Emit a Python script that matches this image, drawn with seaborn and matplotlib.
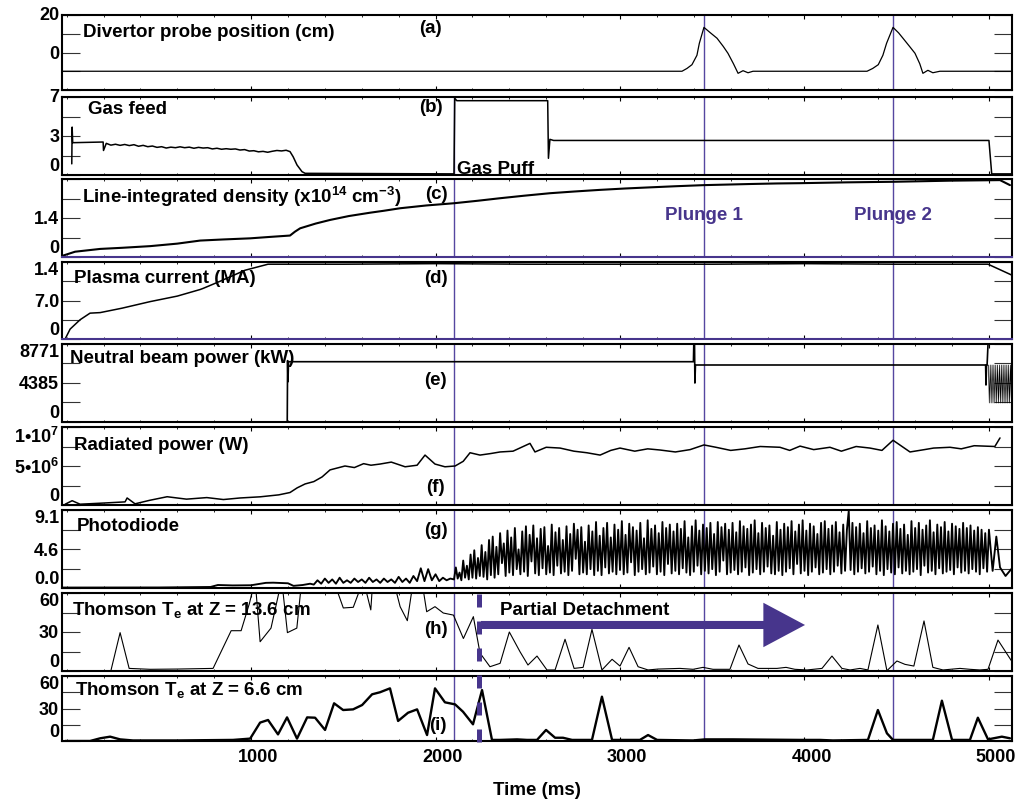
import matplotlib
matplotlib.use('Agg')
import matplotlib.pyplot as plt
import matplotlib.transforms as mtransforms
from matplotlib.lines import Line2D
import numpy as np
import seaborn as sns

# all times in ms
gas_puff_t = 2100
plunge_t = [3455, 4480]
plunge_names = ['Plunge 1', 'Plunge 2']
detach_t = 2236
detach_end_t = 4003
x_ticks = [1000, 2000, 3000, 4000, 5000]

# (a) divertor probe position (cm)
probe_t = [-25, 3336, 3363, 3390, 3417, 3430, 3455, 3490, 3526, 3560, 3585, 3615, 3640, 3667, 3694, 3721,
           4339, 4370, 4400, 4425, 4445, 4480, 4510, 4534, 4570, 4599, 4625, 4642, 4669, 4696, 4734, 5125]
probe_cm = [-10, -10, -8.5, -6.5, -1.5, 4.9, 13.4, 10.5, 7.6, 3.2, -0.4, -6, -11.1, -9.7, -10.8, -10,
            -10, -8.5, -6.5, -1.5, 4.9, 13.4, 10.5, 7.6, 3.2, -0.4, -6, -11.1, -9.5, -10.8, -10, -10]

# (b) gas feed
gas_t = [28, 30, 33, 198, 200, 215, 240, 265, 290, 315,
         340, 365, 390, 415, 440, 465, 490, 515, 540, 565,
         590, 615, 640, 665, 690, 715, 740, 765, 790, 815,
         840, 865, 890, 915, 940, 965, 990, 1015, 1040, 1065,
         1090, 1115, 1140, 1165, 1190, 1211, 1228, 1249, 1276, 1293,
         2100, 2104, 2115, 2608, 2612, 2620, 2640, 5000, 5015, 5125]
gas_v = [1.0, 4.3, 2.9, 2.96, 2.2, 2.84, 2.68, 2.76, 2.66, 2.74,
         2.64, 2.72, 2.58, 2.66, 2.54, 2.6, 2.48, 2.54, 2.42, 2.5,
         2.45, 2.53, 2.45, 2.5, 2.4, 2.48, 2.42, 2.45, 2.34, 2.4,
         2.31, 2.36, 2.31, 2.34, 2.24, 2.28, 2.15, 2.18, 2.08, 2.12,
         2.04, 2.13, 2.2, 2.16, 2.22, 2.1, 1.64, 0.9, 0.3, 0.15,
         0.1, 6.9, 6.67, 6.67, 1.5, 3.2, 3.1, 3.1, 0.1, 0.1]

# (c) line-integrated density (x10^14 cm^-3)
ne_t = [-24, 46, 182, 300, 453, 600, 724, 850, 995, 1100,
        1211, 1238, 1266, 1350, 1428, 1530, 1645, 1720, 1808, 1950,
        2100, 2230, 2350, 2480, 2621, 2750, 2892, 3030, 3163, 3300,
        3455, 3580, 3705, 3850, 3976, 4230, 4480, 4789, 5060, 5114]
ne_v = [0.04, 0.19, 0.29, 0.33, 0.39, 0.48, 0.59, 0.63, 0.67, 0.72,
        0.77, 0.91, 1.03, 1.2, 1.33, 1.47, 1.59, 1.66, 1.75, 1.85,
        1.93, 2.02, 2.11, 2.2, 2.29, 2.35, 2.41, 2.46, 2.50, 2.54,
        2.58, 2.6, 2.62, 2.64, 2.65, 2.68, 2.70, 2.74, 2.76, 2.58]

# (d) plasma current (MA)
ip_t = [-8, 19, 73, 127, 182, 300, 453, 600, 724, 740,
        832, 967, 1092, 1500, 2000, 2500, 3000, 3500, 4000, 4500, 4995, 5125]
ip_v = [0, 0.18, 0.35, 0.47, 0.48, 0.56, 0.68, 0.78, 0.90, 0.92,
        1.05, 1.25, 1.36, 1.36, 1.37, 1.36, 1.36, 1.36, 1.37, 1.36, 1.36, 1.16]

# (e) neutral beam power (kW)
nb_t = [-25, 1196, 1198, 1200, 1203, 3398, 3400, 3404, 3406, 3409, 4982, 4984, 4987, 4990, 4995]
nb_kw = [0, 0, 6900, 4530, 6780, 6780, 8771, 8771, 4385, 6410, 6410, 4160, 6410, 6410, 8771]
nb_tail_t = [4997, 5002, 5007, 5012, 5017, 5022, 5027, 5032, 5037, 5042, 5047, 5052, 5057,
             5062, 5067, 5072, 5077, 5082, 5087, 5092, 5097, 5102, 5107, 5112, 5117, 5122]
nb_tail_kw = [6410, 2140, 6410, 2140, 6410, 2140, 6410, 2140, 6410, 2140, 6410, 2140, 6410,
              2140, 6410, 2140, 6410, 2140, 6410, 2140, 6410, 2140, 6410, 2140, 6410, 2140]

# (f) radiated power (MW, plotted in W)
rad_t = [-8, 30, 73, 200, 317, 328, 371, 450, 545, 650,
         760, 850, 940, 1050, 1150, 1211, 1250, 1293, 1340, 1385,
         1428, 1509, 1560, 1610, 1650, 1699, 1760, 1835, 1900, 1943,
         1997, 2051, 2106, 2150, 2187, 2241, 2300, 2350, 2420, 2512,
         2539, 2600, 2675, 2750, 2820, 2892, 2950, 3000, 3080, 3150,
         3217, 3300, 3380, 3455, 3520, 3600, 3677, 3760, 3867, 3920,
         3976, 4050, 4138, 4200, 4280, 4355, 4420, 4480, 4572, 4650,
         4700, 4789, 4850, 4920, 5032, 5060]
rad_mw = [0.1, 0.55, 0.1, 0.25, 0.4, 0.9, 0.15, 0.6, 1.06, 0.75,
          0.95, 0.7, 0.9, 1.05, 1.3, 1.6, 2.2, 2.7, 3.0, 3.6,
          4.5, 5.0, 4.8, 5.3, 5.1, 5.25, 5.5, 4.9, 5.1, 6.4,
          5.25, 4.9, 5.0, 5.6, 6.7, 6.4, 6.6, 6.8, 6.9, 7.9,
          6.8, 7.4, 7.3, 6.9, 6.7, 6.4, 7.0, 7.3, 6.9, 7.2,
          7.05, 6.8, 7.1, 7.7, 7.4, 7.0, 7.2, 7.5, 7.4, 7.0,
          7.55, 7.1, 7.4, 6.9, 7.5, 7.3, 7.0, 8.3, 6.8, 7.1,
          7.3, 7.4, 7.2, 7.6, 7.5, 8.6]

# (g) photodiode: quiet start, 20 ms samples from 1340 ms, 10 ms samples after the puff
pd_early_t = [-24, 500, 780, 820, 900, 1000, 1080, 1120, 1200, 1230, 1280, 1320]
pd_early_v = [0.05, 0.06, 0.12, 0.35, 0.3, 0.32, 0.6, 0.62, 0.55, 0.25, 0.35, 0.5]
pd_rise_v = [0.4, 0.9, 0.5, 1.1, 0.6, 1.0, 0.5, 1.2, 0.6, 0.9,
             0.6, 1.1, 0.7, 1.0, 0.6, 1.2, 0.7, 1.0, 0.6, 1.1,
             0.7, 1.0, 0.6, 1.3, 0.7, 1.1, 0.6, 1.4, 0.8, 2.3,
             0.8, 2.2, 0.9, 1.6, 0.8, 1.2, 0.9, 1.1]
pd_detached_v = [1.0, 2.4, 1.1, 1.8, 0.9, 3.2, 1.2, 2.6, 1.0, 3.9,
                 1.2, 4.4, 1.1, 3.5, 1.4, 5.0, 1.3, 4.2, 1.0, 5.6,
                 1.5, 6.0, 1.2, 4.8, 1.6, 6.4, 2.9, 5.2, 1.4, 6.7,
                 1.8, 5.9, 1.5, 7.0, 2.2, 4.5, 1.6, 6.6, 1.9, 7.2,
                 1.4, 6.2, 3.1, 7.3, 1.7, 5.8, 1.5, 6.9, 2.3, 7.1,
                 1.6, 4.9, 1.8, 7.4, 1.5, 6.5, 2.6, 7.0, 1.7, 5.6,
                 1.9, 7.2, 1.5, 6.3, 2.0, 7.5, 3.4, 6.8, 1.6, 7.1,
                 1.8, 5.4, 1.6, 7.3, 2.2, 6.6, 1.5, 7.7, 2.0, 6.1,
                 1.5, 7.0, 2.4, 7.6, 1.7, 5.9, 1.9, 7.4, 1.6, 6.8,
                 2.1, 7.8, 1.6, 6.2, 1.8, 7.5, 3.0, 7.1, 1.5, 6.7,
                 1.9, 7.6, 2.2, 5.8, 1.6, 7.9, 1.8, 6.9, 2.5, 7.3,
                 1.6, 6.4, 1.9, 7.7, 1.5, 7.0, 2.8, 7.4, 1.7, 6.6,
                 2.0, 7.5, 1.6, 6.9, 2.3, 7.8, 1.8, 5.9, 1.5, 7.2,
                 1.9, 7.9, 2.6, 6.7, 1.6, 7.4, 2.0, 7.0, 1.7, 7.6,
                 2.2, 6.3, 1.5, 7.7, 1.9, 7.1, 3.2, 7.5, 1.6, 6.8,
                 1.8, 7.6, 2.1, 6.5, 1.6, 7.8, 1.9, 7.2, 2.4, 6.9,
                 1.5, 7.4, 1.8, 7.9, 2.2, 6.4, 1.6, 7.6, 1.9, 7.0,
                 2.5, 7.3, 1.7, 6.1, 1.6, 7.7, 2.0, 6.8, 1.5, 7.5,
                 1.9, 7.1, 2.3, 7.8, 1.6, 6.6, 2.8, 7.4, 1.7, 7.9,
                 2.0, 6.7, 1.5, 7.5, 1.9, 7.2, 2.4, 6.3, 1.6, 7.6,
                 1.8, 7.8, 2.2, 6.9, 1.6, 7.3, 1.9, 7.7, 2.6, 6.5,
                 1.7, 7.4, 2.0, 6.8, 9.0, 2.1, 7.6, 1.6, 7.1, 1.9,
                 7.5, 2.3, 6.4, 1.7, 7.8, 1.9, 7.0, 2.5, 7.3, 1.6,
                 6.7, 2.0, 7.9, 1.5, 7.2, 2.2, 6.6, 1.8, 7.5, 1.6,
                 7.7, 2.4, 6.9, 1.7, 7.4, 2.0, 6.2, 1.6, 7.8, 1.9,
                 7.0, 2.2, 7.6, 1.5, 6.8, 2.6, 7.3, 1.8, 7.9, 2.0,
                 6.5, 1.6, 7.4, 2.3, 7.1, 1.7, 7.7, 1.9, 6.6, 2.1,
                 7.5, 1.6, 7.2, 2.4, 6.9, 1.8, 7.6, 2.0, 7.0, 1.7,
                 7.3, 2.2, 6.7, 1.9, 7.1, 1.6, 6.8, 2.3, 6.4, 1.9]
pd_tail_t = [5000, 5020, 5040, 5060, 5090, 5125]
pd_tail_v = [6.8, 2.0, 6.0, 2.4, 1.4, 2.3]

# (h) Thomson Te at Z = 13.6 cm (eV); values above 60 run off the panel
te13_t = [241, 290, 339, 453, 600, 794, 892, 946, 991, 1022,
          1049, 1108, 1166, 1197, 1248, 1275, 1350, 1420, 1446, 1500,
          1554, 1609, 1649, 1660, 1771, 1808, 1847, 1880, 1925, 1952,
          1997, 2042, 2097, 2151, 2205, 2241, 2295, 2350, 2400, 2458,
          2501, 2550, 2604, 2648, 2702, 2751, 2800, 2848, 2902, 2957,
          3000, 3049, 3098, 3152, 3206, 3325, 3396, 3450, 3504, 3596,
          3645, 3694, 3748, 3851, 3900, 3948, 4014, 4095, 4149, 4203,
          4247, 4301, 4344, 4398, 4447, 4501, 4545, 4593, 4648, 4696,
          4751, 4843, 4897, 4951, 4995, 5049, 5125]
te13_v = [0.8, 29.5, 2, 1.3, 1.5, 2, 31, 31, 52, 70,
          22.5, 33, 70, 29.5, 33, 70, 85, 80, 70, 48.5,
          49, 70, 47, 70, 70, 49.5, 38.7, 70, 70, 45.6,
          49.5, 44.6, 43, 25, 41.8, 13.8, 3.3, 5.9, 30, 14.8,
          4.6, 11.5, 0.8, 0.8, 24.4, 2, 2.8, 32, 0.8, 9,
          3.8, 18.2, 3.3, 0.8, 1.5, 2, 1.3, 2.8, 1.3, 1.3,
          20, 5.4, 2, 2, 2.8, 1.3, 0.8, 2, 11.5, 2,
          0.8, 2, 0.8, 35.4, 0.2, 7.7, 5.1, 3.8, 38.5, 2.8,
          0.8, 2, 1.3, 0.8, 1.3, 23.8, 7.2]

# (i) Thomson Te at Z = 6.6 cm (eV)
te6_t = [-8, 127, 182, 236, 290, 360, 600, 902, 995, 1049,
         1092, 1146, 1195, 1249, 1304, 1347, 1401, 1450, 1499, 1553,
         1602, 1656, 1699, 1753, 1797, 1851, 1900, 1954, 1997, 2051,
         2106, 2149, 2203, 2252, 2306, 2350, 2442, 2496, 2550, 2599,
         2648, 2691, 2740, 2848, 2902, 2957, 3108, 3152, 3201, 3396,
         3461, 3612, 3976, 4084, 4154, 4344, 4398, 4447, 4480, 4642,
         4696, 4745, 4800, 4897, 4940, 4995, 5070, 5114]
te6_v = [0, 0, 2.5, 4, 1.5, 0.5, 0.5, 1, 2.2, 17,
         19.4, 6.1, 21.8, 2.2, 21.8, 21.5, 10.2, 34.8, 28.6, 29.2,
         33.2, 43.1, 45, 48.6, 18.5, 26.1, 29.2, 5.5, 48.6, 35.7,
         33.8, 27, 15.4, 47, 1, 1, 1.5, 1, 1, 10.2,
         3, 3, 1, 1, 40.9, 1, 1, 5.5, 1, 0.5,
         1.5, 1.5, 1, 1, 0.5, 1, 28.6, 7.1, 1, 1,
         1, 37.2, 1, 1, 21.5, 1.5, 4, 2.5]

purple = '#47358c'
line_blue = '#5546a0'

sns.set_theme(style='ticks')
plt.rcParams['font.family'] = ['Liberation Sans', 'DejaVu Sans']
plt.rcParams['font.weight'] = 'bold'
plt.rcParams['mathtext.fontset'] = 'custom'
plt.rcParams['mathtext.rm'] = 'Liberation Sans:bold'
plt.rcParams['mathtext.it'] = 'Liberation Sans:bold'
plt.rcParams['mathtext.bf'] = 'Liberation Sans:bold'
plt.rcParams['mathtext.default'] = 'rm'
plt.rcParams['axes.linewidth'] = 1.5
plt.rcParams['axes.edgecolor'] = 'black'
plt.rcParams['text.color'] = 'black'
plt.rcParams['axes.labelcolor'] = 'black'
plt.rcParams['xtick.color'] = 'black'
plt.rcParams['ytick.color'] = 'black'

W, H = 1026, 799
fig = plt.figure(figsize=(W / 100, H / 100), dpi=100)

# panel top/bottom edges in pixels
panel_px = [(15, 90), (97, 175), (179, 257), (262, 339), (344, 422),
            (427, 505), (510, 588), (593, 671), (676, 741)]
x_left, x_right = 62, 1012
axes = []
for top, bot in panel_px:
    axes.append(fig.add_axes([x_left / W, 1 - bot / H, (x_right - x_left) / W, (bot - top) / H]))
ax_a, ax_b, ax_c, ax_d, ax_e, ax_f, ax_g, ax_h, ax_i = axes


def trace(ax, t, v, lw):
    sns.lineplot(x=t, y=v, ax=ax, color='black', linewidth=lw, estimator=None, sort=False)


def setup(ax, ylim, labels, title, title_xy, letter, letter_xy, top_va='center', bottom=False):
    ax.set_xlim(-25, 5125)
    ax.set_ylim(*ylim)
    ax.set_yticks(np.linspace(ylim[0], ylim[1], 5), labels)
    ytl = ax.get_yticklabels()
    ytl[0].set_va('bottom')
    ytl[-1].set_va(top_va)
    ax.set_xticks(x_ticks)
    ax.set_xticks(np.arange(0, 5125, 200), minor=True)
    ax.tick_params(axis='y', direction='in', left=True, right=True, length=13, width=0.8,
                   color='#333333', pad=2, labelsize=13)
    ax.tick_params(axis='x', which='both', direction='in', top=True, bottom=True,
                   labelbottom=bottom, labelsize=13, pad=6)
    ax.tick_params(axis='x', which='major', length=3, width=0.8)
    ax.tick_params(axis='x', which='minor', length=1.5, width=0.6)
    ax.set_xlabel('')
    ax.set_ylabel('')
    ax.text(*title_xy, title, transform=ax.transAxes, fontsize=13.5, fontweight='bold',
            va='baseline', ha='left', zorder=1)
    ax.text(*letter_xy, letter, transform=ax.transAxes, fontsize=13.5, fontweight='bold',
            va='center', ha='center', zorder=1)


trace(ax_a, probe_t, probe_cm, 0.9)
trace(ax_b, gas_t, gas_v, 1.1)
trace(ax_c, ne_t, ne_v, 1.5)
trace(ax_d, ip_t, ip_v, 1.1)
trace(ax_e, nb_t, nb_kw, 1.2)
trace(ax_e, nb_tail_t, nb_tail_kw, 0.5)
trace(ax_f, rad_t, np.array(rad_mw) * 1e6, 1.1)
pd_t = (pd_early_t + list(np.arange(1340, 2100, 20)) + list(np.arange(2100, 5000, 10))
        + pd_tail_t)
trace(ax_g, pd_t, pd_early_v + pd_rise_v + pd_detached_v + pd_tail_v, 1.35)
trace(ax_h, te13_t, te13_v, 0.8)
trace(ax_i, te6_t, te6_v, 1.7)

setup(ax_a, (-20, 20), ['', '', '0', '', '20'], 'Divertor probe position (cm)',
      (0.022, 0.707), '(a)', (0.388, 0.82))
setup(ax_b, (0, 7), ['0', '', '3', '', '7'], 'Gas feed',
      (0.027, 0.782), '(b)', (0.388, 0.86))
setup(ax_c, (0, 2.8), ['0', '', '1.4', '', ''], 'Line-integrated density (x10$^{14}$ cm$^{-3}$)',
      (0.021, 0.692), '(c)', (0.394, 0.795), top_va='top')
setup(ax_d, (0, 1.4), ['0', '', '7.0', '', '1.4'], 'Plasma current (MA)',
      (0.013, 0.727), '(d)', (0.394, 0.79), top_va='top')
setup(ax_e, (0, 8771), ['0', '', '4385', '', '8771'], 'Neutral beam power (kW)',
      (0.008, 0.756), '(e)', (0.393, 0.526), top_va='top')
setup(ax_f, (0, 1e7), ['0', '', '5•10$^6$', '', '1•10$^7$'], 'Radiated power (W)',
      (0.013, 0.705), '(f)', (0.393, 0.23), top_va='top')
setup(ax_g, (0, 9.1), ['0.0', '', '4.6', '', '9.1'], 'Photodiode',
      (0.016, 0.731), '(g)', (0.394, 0.74), top_va='top')
setup(ax_h, (0, 60), ['0', '', '30', '', '60'], 'Thomson T$_e$ at Z = 13.6 cm',
      (0.011, 0.718), '(h)', (0.394, 0.526), top_va='top')
setup(ax_i, (0, 60), ['0', '', '30', '', '60'], 'Thomson T$_e$ at Z = 6.6 cm',
      (0.014, 0.708), '(i)', (0.396, 0.246), top_va='top', bottom=True)

# the time labels sit a little to the right of their ticks in the original
shift = mtransforms.ScaledTranslation(0.07, 0, fig.dpi_scale_trans)
for lab in ax_i.get_xticklabels():
    lab.set_transform(lab.get_transform() + shift)

for ax in (ax_c, ax_d):
    ax.spines['bottom'].set_color(purple)

# gas puff and plunge markers
for ax in axes[1:]:
    ax.axvline(gas_puff_t, color=line_blue, lw=1.0, zorder=1.5)
for ax in axes:
    for p in plunge_t:
        ax.axvline(p, color=line_blue, lw=1.0, zorder=1.5)

for p, name in zip(plunge_t, plunge_names):
    ax_c.text(p, 1.5, name, color=purple, fontsize=13.5, fontweight='bold', ha='center', va='center')
ax_b.text(gas_puff_t + 15, 0.12, 'Gas Puff', fontsize=13.5, fontweight='bold', va='baseline')

# partial detachment marker across (h) and (i)
trans = mtransforms.blended_transform_factory(ax_h.transData, fig.transFigure)
fig.add_artist(Line2D([detach_t, detach_t], [1 - 742 / H, 1 - 593 / H], transform=trans,
                      color=purple, lw=3.6, linestyle=(0, (2.6, 2.8))))
ax_h.annotate('', xy=(detach_end_t, 35.4), xytext=(detach_t + 10, 35.4),
              arrowprops=dict(arrowstyle='simple,head_length=30,head_width=32,tail_width=5.8',
                              fc=purple, ec=purple, lw=0, shrinkA=0, shrinkB=0, mutation_scale=1))
ax_h.text(detach_t + 115, 43, 'Partial Detachment', fontsize=13.5, fontweight='bold', va='baseline')

ax_i.set_xlabel('Time (ms)', fontsize=13.5, fontweight='bold', labelpad=11)

plt.savefig('out.png', dpi=100)
